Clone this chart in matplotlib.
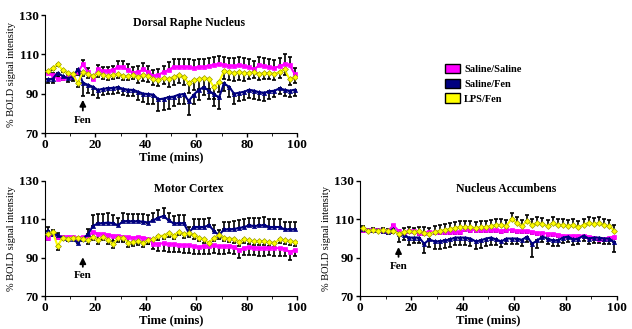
# Recreate the three BOLD signal time-course panels

import matplotlib.pyplot as plt
from matplotlib.patches import Patch

plt.rcParams["font.family"] = ["Liberation Serif", "DejaVu Serif"]

time = [1, 3, 5, 7, 9, 11, 13, 15, 17, 19, 21, 23, 25, 27, 29, 31, 33, 35, 37, 39,
        41, 43, 45, 47, 49, 51, 53, 55, 57, 59, 61, 63, 65, 67, 69, 71, 73, 75, 77, 79,
        81, 83, 85, 87, 89, 91, 93, 95, 97, 99]

# Dorsal Raphe Nucleus
drn_sal_sal = [100.4, 99.5, 97.5, 98, 98.5, 98.6, 101, 104.9, 101, 97.5,
               102.4, 101.5, 101.5, 102, 103.7, 103.5, 102, 100.7, 101, 102.4,
               101, 99, 99.5, 101, 102, 103.7, 103.5, 103.8, 103.5, 103,
               103.7, 103.5, 104.2, 104.5, 105, 104.5, 104.3, 104, 104.5, 104,
               103.5, 102.5, 104.5, 104, 103.5, 103, 104, 105, 104.5, 100]
drn_sal_sal_err = [1, 1, 1, 1, 1, 1, 1, 2, 2, 1, 2, 2, 2, 2, 3, 3, 3, 3, 3, 3,
                   3, 3, 3, 3, 4, 4, 4, 4, 4, 4, 4, 4, 4, 4, 4, 4, 4, 4, 4, 4,
                   4, 4, 4, 4, 4, 4, 4, 5, 4, 3]
drn_sal_fen = [97.4, 97.5, 100.6, 99, 97.9, 98.5, 102.4, 95.6, 94.5, 93.5,
               91.9, 92.5, 92.7, 93, 93.2, 92.5, 92, 91.9, 91, 90,
               89.8, 89.5, 87.1, 87.5, 88.2, 88.5, 89.5, 89.8, 86.3, 89.5,
               92, 93.3, 91.5, 89.8, 88.1, 95.2, 93.5, 90, 90.5, 91,
               92, 91.5, 90.7, 90.5, 91.2, 91.5, 92.7, 92, 91.5, 92]
drn_sal_fen_err = [2, 2, 2, 2, 2, 2, 3, 7, 4, 4, 4, 3, 3, 3, 3, 3, 3, 3, 4, 4,
                   5, 5, 6, 6, 6, 5, 5, 5, 7, 5, 5, 4, 4, 6, 6, 4, 5, 5, 4, 4,
                   4, 4, 4, 4, 4, 3, 3, 3, 3, 3]
drn_lps_fen = [101.5, 103, 105, 102, 100.7, 100, 95.3, 101, 100, 99,
               100.5, 99.5, 99, 99.5, 100, 99, 99, 99.4, 98.5, 99.5,
               99, 97.5, 97, 98, 97.5, 98.5, 99.5, 98.5, 95.3, 97,
               97.3, 98, 97.5, 93.2, 96, 101.5, 101, 100.5, 101, 100.5,
               100.6, 101, 100, 100.5, 100.5, 100, 101, 102.4, 97.3, 98.5]
drn_lps_fen_err = [1, 1, 1, 1, 1, 1, 2, 2, 2, 2, 2, 2, 2, 2, 2, 2, 2, 2, 3, 3,
                   3, 3, 3, 3, 4, 4, 4, 4, 5, 5, 5, 5, 5, 6, 5, 4, 4, 4, 4, 4,
                   3, 3, 3, 3, 3, 3, 3, 3, 3, 3]

# Motor Cortex
mc_sal_sal = [100.4, 102.5, 101, 100.8, 101, 101, 100.5, 100.8, 101, 103.6,
              102.5, 102.5, 102, 101.5, 101.5, 101, 100.8, 100.4, 100.8, 100.5,
              99.9, 97.3, 97.3, 97.5, 97, 97, 96.8, 96.5, 96.5, 96,
              95.7, 96, 96, 96.5, 96, 96, 96.2, 95.7, 94, 95.2,
              95.5, 95.3, 95, 95, 95.2, 95, 95, 94.8, 93, 94]
mc_sal_sal_err = [1, 1, 1, 1, 1, 1, 1, 1, 2, 3, 3, 3, 3, 3, 3, 3, 3, 3, 3, 3,
                  3, 3, 4, 4, 4, 4, 4, 4, 4, 4, 4, 4, 4, 4, 4, 4, 4, 4, 4, 4,
                  4, 4, 4, 4, 4, 4, 4, 4, 4, 3]
mc_sal_fen = [103.9, 102.5, 101.7, 100.5, 100, 99.6, 97.8, 99.9, 102.2, 106.5,
              107.9, 108, 108.3, 108, 106.9, 109.1, 109, 109, 109, 108.8,
              108.3, 109.5, 110.9, 111.7, 109.5, 107.9, 108, 108, 103, 106,
              106, 106, 106.9, 104, 101.7, 104.8, 104.8, 105, 105.5, 106,
              106.9, 106.5, 106.8, 107, 106, 106, 106, 104.8, 104.8, 104.8]
mc_sal_fen_err = [2, 2, 1, 1, 1, 1, 1, 1, 3, 6, 5, 5, 5, 4, 4, 4, 4, 4, 4, 4,
                  4, 4, 4, 4, 4, 4, 4, 4, 3, 4, 4, 4, 4, 3, 3, 4, 4, 4, 4, 4,
                  4, 4, 4, 4, 4, 4, 4, 4, 4, 4]
mc_lps_fen = [102.2, 103.6, 96.1, 100.4, 99.9, 100.5, 100.4, 99.9, 99.2, 101,
              99.2, 101, 99.2, 97, 100.4, 100.5, 97.8, 98.3, 98.5, 97.8,
              99, 99.5, 101.3, 101.5, 103, 101.5, 103.6, 102.2, 102.8, 101.8,
              100.5, 99.5, 97.8, 100.5, 101.8, 100.5, 100, 99.8, 98.3, 99.5,
              99, 98.5, 98.8, 98.5, 98, 97.8, 99.5, 99, 98.8, 98.3]
mc_lps_fen_err = [1, 1, 2, 1, 1, 1, 1, 1, 2, 2, 2, 2, 2, 2, 2, 2, 2, 2, 2, 2,
                  2, 2, 2, 2, 2, 2, 2, 2, 2, 2, 2, 2, 2, 2, 2, 2, 2, 2, 2, 2,
                  2, 2, 2, 2, 2, 2, 2, 2, 2, 2]

# Nucleus Accumbens
nac_sal_sal = [104.4, 104.5, 104.3, 104.5, 104, 104, 106.9, 104, 103, 104,
               104, 103, 102.7, 103.5, 103.5, 103.5, 103.5, 103.5, 103.2, 103.5,
               104.8, 104.5, 104.5, 104.5, 104.5, 104.5, 104.5, 104, 104.5, 104.5,
               104, 104, 104, 103.5, 103, 103, 102.5, 102.5, 102, 101.5,
               101.3, 101.5, 101.5, 101.5, 101, 100.5, 100, 99.9, 100.5, 101]
nac_sal_sal_err = [1, 1, 1, 1, 1, 1, 1, 1, 1, 1, 1, 1, 1, 1, 1, 1, 1, 1, 1, 1,
                   1, 1, 1, 1, 1, 1, 1, 1, 1, 1, 1, 1, 1, 1, 1, 1, 1, 1, 1, 1,
                   1, 1, 1, 1, 1, 1, 1, 1, 1, 1]
nac_sal_fen = [104.8, 104.5, 104.5, 104.5, 104, 103.5, 105, 102.2, 102, 100.5,
               100.5, 100.5, 97.3, 99.5, 98.5, 98.5, 99, 99.5, 100.5, 100.5,
               100.5, 100, 98.5, 99, 100, 100.5, 99.5, 98.5, 100, 100,
               100, 99.3, 101, 97.3, 99, 101, 100, 99, 99, 100.5,
               101, 99.5, 100, 101.5, 100, 100.5, 100.5, 100, 100, 98]
nac_sal_fen_err = [1, 1, 1, 1, 1, 1, 2, 4, 3, 4, 3, 3, 5, 4, 4, 4, 4, 4, 4, 4,
                   4, 4, 4, 4, 4, 4, 3, 3, 3, 3, 3, 3, 3, 7, 4, 3, 3, 3, 3, 3,
                   3, 3, 3, 3, 3, 3, 3, 3, 3, 5]
nac_lps_fen = [105.3, 104, 104.5, 104, 104.5, 103.9, 104, 102.5, 103.5, 103.9,
               103.5, 103.9, 103, 102.5, 103.5, 104, 104.5, 105, 105.5, 106,
               106, 106, 105.5, 106, 106, 106.5, 107, 107.2, 106.5, 110.3,
               108, 106.5, 109.1, 107, 108.3, 107.5, 106.5, 108, 107, 107.2,
               106.5, 107, 106, 107, 108.3, 107.5, 108, 107, 106.5, 104]
nac_lps_fen_err = [1, 1, 1, 1, 1, 1, 1, 2, 2, 2, 2, 2, 3, 3, 3, 3, 3, 3, 3, 3,
                   3, 3, 3, 3, 3, 3, 3, 3, 3, 3, 3, 3, 3, 3, 3, 3, 3, 3, 3, 3,
                   3, 3, 3, 3, 3, 3, 3, 3, 3, 3]

labels = ["Saline/Saline", "Saline/Fen", "LPS/Fen"]
colors = ["#ff00ff", "#000080", "#ffff00"]
markers = ["s", "^", "D"]

fig = plt.figure(figsize=(6.32, 3.29), dpi=100)
ax1 = fig.add_axes([0.0712, 0.5957, 0.399, 0.3587])
ax2 = fig.add_axes([0.0712, 0.1, 0.399, 0.35])
ax3 = fig.add_axes([0.5696, 0.1, 0.4066, 0.35])

panels = [
    (ax1, "Dorsal Raphe Nucleus",
     [(drn_sal_sal, drn_sal_sal_err, "up"), (drn_sal_fen, drn_sal_fen_err, "down"),
      (drn_lps_fen, drn_lps_fen_err, "down")], (88.3, 80.0, 76.5)),
    (ax2, "Motor Cortex",
     [(mc_sal_sal, mc_sal_sal_err, "down"), (mc_sal_fen, mc_sal_fen_err, "up"),
      (mc_lps_fen, mc_lps_fen_err, "down")], (91.7, 83.8, 80.5)),
    (ax3, "Nucleus Accumbens",
     [(nac_sal_sal, nac_sal_sal_err, "down"), (nac_sal_fen, nac_sal_fen_err, "down"),
      (nac_lps_fen, nac_lps_fen_err, "up")], (97.0, 89.0, 85.5)),
]

for ax, title, series, fen in panels:
    for (vals, err, side), c, m in zip(series, colors, markers):
        zeros = [0] * len(err)
        yerr = [zeros, err] if side == "up" else [err, zeros]
        ax.errorbar(time, vals, yerr=yerr, fmt="none", ecolor="k",
                    elinewidth=1.2, capsize=1.5, capthick=1.2, zorder=2)
        ax.plot(time, vals, color=c, marker=m, markersize=3, lw=1.5,
                markeredgecolor=c if c != "#ffff00" else "#9a9a00",
                markeredgewidth=0.5, zorder=3)

    ax.set_xlim(0, 100)
    ax.set_ylim(70, 130)
    ax.set_xticks([0, 20, 40, 60, 80, 100])
    ax.set_xticks([10, 30, 50, 70, 90], minor=True)
    ax.set_yticks([70, 90, 110, 130])
    ax.spines["top"].set_visible(False)
    ax.spines["right"].set_visible(False)
    ax.tick_params(direction="out", length=3, width=1, labelsize=9.5, pad=1.5)
    ax.tick_params(which="minor", length=2)
    for lab in ax.get_xticklabels() + ax.get_yticklabels():
        lab.set_fontweight("bold")
    ax.set_xlabel("Time (mins)", fontsize=9, fontweight="bold", labelpad=0)
    ax.set_ylabel("% BOLD signal intensity", fontsize=7.5, labelpad=2)
    ax.text(57, 126, title, ha="center", va="center", fontsize=8.5,
            fontweight="bold")
    tip, tail, txt = fen
    ax.annotate("", xy=(15, tip), xytext=(15, tail),
                arrowprops=dict(arrowstyle="-|>", color="k", lw=1.3,
                                mutation_scale=9))
    ax.text(15, txt, "Fen", ha="center", va="center", fontsize=8,
            fontweight="bold")

handles = [Patch(facecolor=c, edgecolor="k", label=l) for c, l in zip(colors, labels)]
fig.legend(handles=handles, loc="upper left", bbox_to_anchor=(0.69, 0.835),
           frameon=False, prop={"size": 7.5, "weight": "bold"},
           handlelength=1.4, handleheight=1.0, handletextpad=0.4,
           labelspacing=0.45)

fig.savefig("out.png", dpi=100)
